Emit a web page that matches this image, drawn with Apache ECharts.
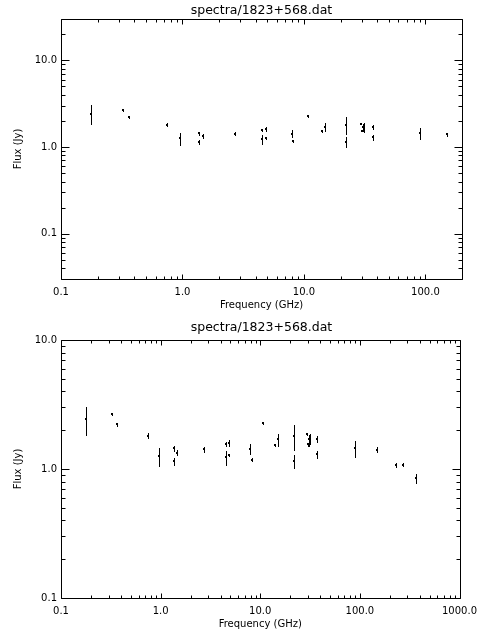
<!DOCTYPE html>
<html>
<head>
<meta charset="utf-8">
<script src="https://cdn.jsdelivr.net/npm/echarts@6/dist/echarts.min.js"></script>
<style>
html,body{margin:0;padding:0;background:#fff;}
#chart{width:480px;height:640px;}
</style>
</head>
<body>
<div id="chart"></div>
<script>
// ---- data ----
const freqGHz = [0.178, 0.325, 0.365, 0.74, 0.96, 1.37, 1.47, 1.37, 2.7,
  4.5, 4.85, 4.5, 4.85, 7.9, 8.2, 10.7, 14.0, 15.0, 22.0, 22.0,
  29.5, 30.0, 30.5, 31.0, 31.5, 37.0, 37.0, 90.0, 150.0, 230.0, 270.0, 370.0];
const fluxJy = [2.42, 2.65, 2.22, 1.81, 1.26, 1.45, 1.34, 1.15, 1.42,
  1.57, 1.60, 1.23, 1.28, 1.43, 1.18, 2.27, 1.53, 1.70, 1.80, 1.15,
  1.86, 1.55, 1.70, 1.54, 1.72, 1.71, 1.30, 1.45, 1.41, 1.08, 1.08, 0.85];
const errJy = [0.60, 0.03, 0.05, 0.08, 0.20, 0.06, 0.06, 0.07, 0.06,
  0.05, 0.08, 0.15, 0.03, 0.13, 0.03, 0.03, 0.03, 0.18, 0.40, 0.14,
  0.03, 0.03, 0.15, 0.03, 0.15, 0.10, 0.08, 0.21, 0.06, 0.04, 0.03, 0.07];

const titleText = 'spectra/1823+568.dat';
const xName = 'Frequency (GHz)';
const yName = 'Flux (Jy)';

// axis ranges and major tick values
const topXRange = [0.1, 200];
const topYRange = [0.03, 30];
const botXRange = [0.1, 1000];
const botYRange = [0.1, 10];
const topXMajor = [0.1, 1, 10, 100];
const topYMajor = [0.1, 1, 10];
const botXMajor = [0.1, 1, 10, 100, 1000];
const botYMajor = [0.1, 1, 10];

const FONT = 'DejaVu Sans';

function minorTicks(range) {
  const out = [];
  const d0 = Math.floor(Math.log10(range[0]) + 1e-9);
  const d1 = Math.ceil(Math.log10(range[1]) - 1e-9);
  for (let d = d0; d <= d1; d++) {
    for (let k = 2; k <= 9; k++) {
      const v = k * Math.pow(10, d);
      if (v >= range[0] * (1 - 1e-9) && v <= range[1] * (1 + 1e-9)) out.push(v);
    }
  }
  return out;
}

function decadeLabel(v) {
  const l = Math.log10(v);
  if (Math.abs(l - Math.round(l)) > 1e-6) return '';
  const p = Math.pow(10, Math.round(l));
  return p.toFixed(1);
}

const rows = freqGHz.map((f, i) => [f, fluxJy[i], errJy[i]]);

function renderErr(params, api) {
  const x = api.value(0), y = api.value(1), e = api.value(2);
  const pc = api.coord([x, y]);
  const pt = api.coord([x, y + e]);
  const pb = api.coord([x, y - e]);
  const cx = Math.round(pc[0]) + 0.5;
  return {
    type: 'group',
    children: [
      {type: 'line', shape: {x1: cx, y1: Math.round(pt[1]), x2: cx, y2: Math.round(pb[1]) + 1},
       style: {stroke: '#000', lineWidth: 1}},
      {type: 'rect', shape: {x: Math.round(pc[0]) - 1, y: Math.round(pc[1]) - 1, width: 2, height: 2},
       style: {fill: '#000'}}
    ]
  };
}

function makeFrame(xr, yr, xMaj, yMaj) {
  const xMin = minorTicks(xr), yMin = minorTicks(yr);
  return function (params, api) {
    const cs = params.coordSys;
    const L = Math.round(cs.x) + 0.5, T = Math.round(cs.y) + 0.5;
    const R = Math.round(cs.x + cs.width) + 0.5, B = Math.round(cs.y + cs.height) + 0.5;
    const ch = [];
    const st = {stroke: '#000', lineWidth: 1};
    ch.push({type: 'rect', shape: {x: L, y: T, width: R - L, height: B - T}, style: {stroke: '#000', fill: null, lineWidth: 1}});
    const xTickMaj = 5, xTickMin = 3, yTickMaj = 8, yTickMin = 4;
    function xt(v, len) {
      const px = Math.round(api.coord([v, yr[0]])[0]) + 0.5;
      ch.push({type: 'line', shape: {x1: px, y1: B, x2: px, y2: B - len}, style: st});
      ch.push({type: 'line', shape: {x1: px, y1: T, x2: px, y2: T + len}, style: st});
    }
    function yt(v, len) {
      const py = Math.round(api.coord([xr[0], v])[1]) + 0.5;
      ch.push({type: 'line', shape: {x1: L, y1: py, x2: L + len, y2: py}, style: st});
      ch.push({type: 'line', shape: {x1: R, y1: py, x2: R - len, y2: py}, style: st});
    }
    xMaj.forEach(v => xt(v, xTickMaj));
    xMin.forEach(v => xt(v, xTickMin));
    yMaj.forEach(v => yt(v, yTickMaj));
    yMin.forEach(v => yt(v, yTickMin));
    return {type: 'group', children: ch};
  };
}

function xAxisCfg(gi, r) {
  return {
    gridIndex: gi, type: 'log', logBase: 10, min: r[0], max: r[1],
    name: xName, nameLocation: 'middle', nameGap: 21,
    nameTextStyle: {fontFamily: FONT, fontSize: 10, color: '#000'},
    axisLine: {show: false}, axisTick: {show: false}, splitLine: {show: false},
    minorTick: {show: false}, minorSplitLine: {show: false},
    axisLabel: {interval: 0, margin: 8, formatter: decadeLabel, hideOverlap: false,
      fontFamily: FONT, fontSize: 10, color: '#000', showMinLabel: true, showMaxLabel: true}
  };
}
function yAxisCfg(gi, r) {
  return {
    gridIndex: gi, type: 'log', logBase: 10, min: r[0], max: r[1],
    name: yName, nameLocation: 'middle', nameGap: 28, nameRotate: 90,
    nameTextStyle: {fontFamily: FONT, fontSize: 10, color: '#000'},
    axisLine: {show: false}, axisTick: {show: false}, splitLine: {show: false},
    minorTick: {show: false}, minorSplitLine: {show: false},
    axisLabel: {interval: 0, margin: 4, formatter: decadeLabel, hideOverlap: false,
      fontFamily: FONT, fontSize: 10, color: '#000', showMinLabel: true, showMaxLabel: true}
  };
}

const chart = echarts.init(document.getElementById('chart'), null, {renderer: 'canvas'});
chart.setOption({
  animation: false,
  backgroundColor: '#fff',
  grid: [
    {left: 61, top: 19, width: 401, height: 260, show: false},
    {left: 61, top: 340, width: 401, height: 258, show: false}
  ],
  xAxis: [xAxisCfg(0, topXRange), xAxisCfg(1, botXRange)],
  yAxis: [yAxisCfg(0, topYRange), yAxisCfg(1, botYRange)],
  graphic: [
    {type: 'text', x: 261.5, y: 11, style: {text: titleText, textAlign: 'center', textVerticalAlign: 'middle',
      font: '12.5px "' + FONT + '"', fill: '#000'}},
    {type: 'text', x: 261.5, y: 328, style: {text: titleText, textAlign: 'center', textVerticalAlign: 'middle',
      font: '12.5px "' + FONT + '"', fill: '#000'}}
  ],
  series: [
    {type: 'custom', xAxisIndex: 0, yAxisIndex: 0, data: [[topXRange[0], topYRange[0]]], clip: false,
     renderItem: makeFrame(topXRange, topYRange, topXMajor, topYMajor), silent: true},
    {type: 'custom', xAxisIndex: 1, yAxisIndex: 1, data: [[botXRange[0], botYRange[0]]], clip: false,
     renderItem: makeFrame(botXRange, botYRange, botXMajor, botYMajor), silent: true},
    {type: 'custom', xAxisIndex: 0, yAxisIndex: 0, data: rows, clip: true, renderItem: renderErr,
     encode: {x: 0, y: 1}},
    {type: 'custom', xAxisIndex: 1, yAxisIndex: 1, data: rows, clip: true, renderItem: renderErr,
     encode: {x: 0, y: 1}}
  ]
});
</script>
</body>
</html>
